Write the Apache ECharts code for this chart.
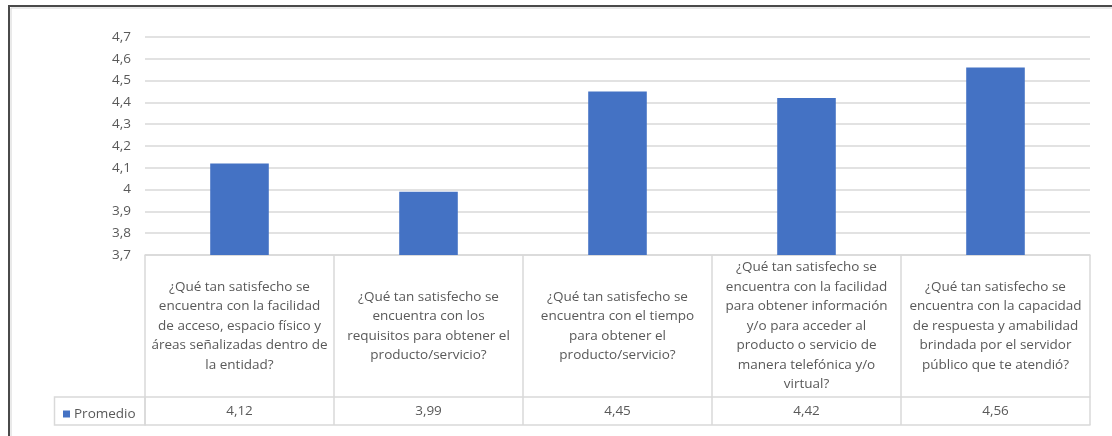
<!DOCTYPE html>
<html><head><meta charset="utf-8">
<script src="https://cdn.jsdelivr.net/npm/echarts@6/dist/echarts.min.js"></script>
<style>html,body{margin:0;padding:0;background:#fff}#c{width:1112px;height:436px}</style>
</head><body><div id="c"></div>
<script>
var categories = [
  "¿Qué tan satisfecho se\nencuentra con la facilidad\nde acceso, espacio físico y\náreas señalizadas dentro de\nla entidad?",
  "¿Qué tan satisfecho se\nencuentra con los\nrequisitos para obtener el\nproducto/servicio?",
  "¿Qué tan satisfecho se\nencuentra con el tiempo\npara obtener el\nproducto/servicio?",
  "¿Qué tan satisfecho se\nencuentra con la facilidad\npara obtener información\ny/o para acceder al\nproducto o servicio de\nmanera telefónica y/o\nvirtual?",
  "¿Qué tan satisfecho se\nencuentra con la capacidad\nde respuesta y amabilidad\nbrindada por el servidor\npúblico que te atendió?"
];
var promedio = [4.12, 3.99, 4.45, 4.42, 4.56];
var seriesName = "Promedio";
var yMin = 3.7, yMax = 4.7, yStep = 0.1;

var FONT = "'Open Sans', sans-serif";
var FS = 13.5;
var TXT = "#595959";
var LINE = "#d9d9d9";
function fmtVal(v){ return v.toFixed(2).replace('.', ','); }
function fmtTick(v){ return String(parseFloat(v.toFixed(1))).replace('.', ','); }

var chart = echarts.init(document.getElementById('c'), null, {renderer:'canvas'});
chart.setOption({
  animation:false,
  backgroundColor:'#fff',
  textStyle:{fontFamily:FONT},
  grid:{left:145, right:22, top:37, bottom:181, containLabel:false},
  legend:{
    data:[seriesName], left:58, top:402, icon:'rect', itemWidth:7, itemHeight:7, itemGap:4,
    textStyle:{color:TXT, fontSize:FS, fontFamily:FONT, padding:[0,0,0,-1]}
  },
  xAxis:[
    {type:'category', data:categories, position:'bottom',
     axisLine:{show:true, lineStyle:{color:LINE, width:1.5}},
     axisTick:{show:true, length:170, alignWithLabel:false, interval:0, lineStyle:{color:LINE, width:1.5}},
     axisLabel:{interval:0, color:TXT, fontSize:FS, fontFamily:FONT, lineHeight:19.5, verticalAlign:'middle', margin:71, align:'center'},
     splitLine:{show:false}},
    {type:'category', data:promedio.map(fmtVal), position:'bottom', offset:142,
     axisLine:{show:true, lineStyle:{color:LINE, width:1.5}},
     axisTick:{show:false},
     axisLabel:{interval:0, color:TXT, fontSize:FS, fontFamily:FONT, verticalAlign:'middle', margin:14}},
    {type:'category', data:promedio.map(fmtVal), position:'bottom', offset:170,
     axisLine:{show:true, lineStyle:{color:LINE, width:1.5}},
     axisTick:{show:false}, axisLabel:{show:false}}
  ],
  yAxis:{type:'value', min:yMin, max:yMax, interval:yStep,
    axisLine:{show:false}, axisTick:{show:false},
    axisLabel:{color:TXT, fontSize:FS, fontFamily:FONT, margin:14, formatter:fmtTick},
    splitLine:{lineStyle:{color:LINE, width:1.5}}},
  series:[{name:seriesName, type:'bar', data:promedio, barWidth:'31%', xAxisIndex:0,
    itemStyle:{color:'#4472C4'}}],
  graphic:[
    {type:'rect', shape:{x:9, y:6, width:1120, height:450}, style:{fill:null, stroke:'#4a4a4a', lineWidth:2}, silent:true},
    {type:'rect', shape:{x:11, y:8, width:1120, height:450}, style:{fill:null, stroke:'#d4d4d4', lineWidth:1}, silent:true},
    {type:'rect', shape:{x:54.5, y:397, width:90.5, height:28}, style:{fill:null, stroke:LINE, lineWidth:1.5}, silent:true, z:-1}
  ]
});
</script></body></html>
